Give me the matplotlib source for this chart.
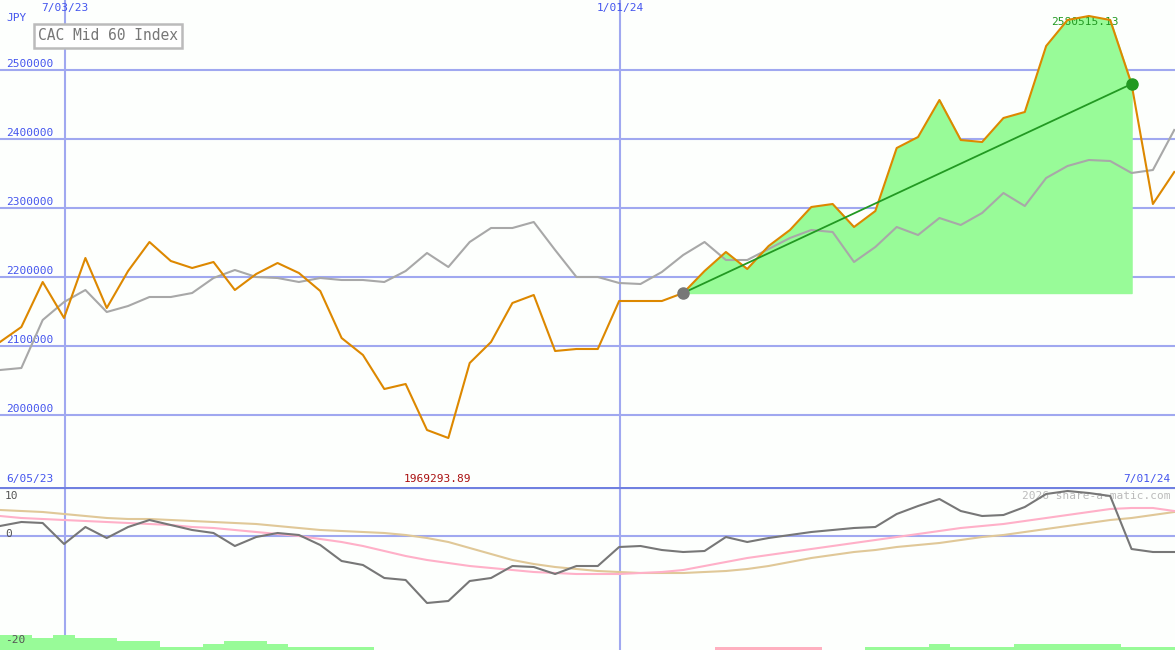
import matplotlib
matplotlib.use("Agg")
import matplotlib.pyplot as plt
import numpy as np

dates_top = ["7/03/23", "1/01/24"]
date_top_idx = [3.04, 29.04]
price_px = [342,327,282,318,258,308,271,242,261,268,262,290,274,263,273,291,338,355,389,384,
            430,438,363,342,303,295,351,349,349,301,301,301,293,271,252,269,246,230,207,204,
            227,211,148,137,100,140,142,118,112,46,20,16,20,84,204,172]
compare_px = [370,368,320,302,290,312,306,297,297,293,278,270,277,278,282,278,280,280,282,271,
              253,267,242,228,228,222,250,277,277,283,284,272,255,242,260,260,249,238,230,232,
              262,247,227,235,218,225,213,193,206,178,166,160,161,173,170,130]
osc_px = [526,522,523,544,527,538,527,520,525,530,533,546,537,533,535,545,561,565,578,580,
          603,601,581,578,566,567,574,566,566,547,546,550,552,551,537,542,538,535,532,530,
          528,527,514,506,499,511,516,515,507,494,491,493,496,549,552,552]
pink_px = [516,518,519,520,521,522,523,524,525,527,528,530,532,534,536,539,542,546,551,556,
           560,563,566,568,570,572,573,574,574,574,573,572,570,566,562,558,555,552,549,546,
           543,540,537,534,531,528,526,524,521,518,515,512,509,508,508,511]
tan_px = [510,511,512,514,516,518,519,519,520,521,522,523,524,526,528,530,531,532,533,535,
          538,542,548,554,560,564,567,569,571,572,573,573,573,572,571,569,566,562,558,555,
          552,550,547,545,543,540,537,535,532,529,526,523,520,518,515,512]
bars_px = [15,15,12,15,12,12,9,9,3,3,6,9,9,6,3,3,3,3,0,0,0,0,0,0,0,0,0,0,0,0,0,0,0,0,
           -3,-3,-3,-3,-3,0,0,3,3,3,6,3,3,3,6,6,6,6,6,3,3,3]

price = 2500000 - (np.array(price_px) - 70) / 69 * 100000
compare = 2500000 - (np.array(compare_px) - 70) / 69 * 100000
osc = (536 - np.array(osc_px)) / 4
pink = (536 - np.array(pink_px)) / 4
tan = (536 - np.array(tan_px)) / 4
bars = np.array(bars_px) / 4

PX = 21.35
W = 1175 / PX
x = np.arange(len(price))
BLUE = "#a0a8f0"
TXT = "#4455ee"
mono = "DejaVu Sans Mono"
FS = 8

fig = plt.figure(figsize=(11.75, 6.5), dpi=100, facecolor="#fdfffd")
ax = fig.add_axes([0, 163/650, 1, 487/650], facecolor="#fdfffd")
ax2 = fig.add_axes([0, 0, 1, 163/650], facecolor="#fdfffd")
for a in (ax, ax2):
    a.set_xlim(0, W)
    a.set_xticks([]); a.set_yticks([])
    for s in a.spines.values():
        s.set_visible(False)
    for d in date_top_idx:
        a.axvline(d, color=BLUE, lw=1.5, zorder=1)

def py(p):
    return 2500000 - (p - 70) / 69 * 1e5

ytop, ybot = py(0), py(487)
ax.set_ylim(ybot, ytop)
for v in range(2000000, 2600000, 100000):
    ax.axhline(v, color=BLUE, lw=1.5, zorder=1)
    ax.text(6/PX, v + 9000, str(v), color=TXT, fontsize=FS, family=mono, va="center")
ax.text(6/PX, py(18), "JPY", color=TXT, fontsize=FS, family=mono, va="center")
for lab, d in zip(dates_top, date_top_idx):
    ax.text(d, py(8), lab, color=TXT, fontsize=FS, family=mono, ha="center", va="center")
ax.text(6/PX, py(479), "6/05/23", color=TXT, fontsize=FS, family=mono, va="center")
ax.text(437/PX, py(479), "1969293.89", color="#aa1111", fontsize=FS, family=mono, va="center", ha="center")
ax.text(1170/PX, py(479), "7/01/24", color=TXT, fontsize=FS, family=mono, va="center", ha="right")

ax.text(38/PX, py(36), "CAC Mid 60 Index", color="#777777", fontsize=10.5, family=mono,
        va="center", bbox=dict(boxstyle="square,pad=0.3", fc="white", ec="#bbbbbb", lw=1.8), zorder=6)

i0, i1 = 32, 53
ax.fill_between(x[i0:i1+1], price[i0], price[i0:i1+1], color="#98fb98", zorder=2)
ax.plot(x, compare, color="#a8a8a8", lw=1.5, zorder=3)
ax.plot(x, price, color="#dd8800", lw=1.5, zorder=4)
ax.plot([x[i0], x[i1]], [price[i0], price[i1]], color="#229922", lw=1.3, zorder=5)
ax.plot(x[i0], price[i0], "o", color="#777777", ms=8, zorder=6)
ax.plot(x[i1], price[i1], "o", color="#229922", ms=8, zorder=6)
ax.text(1085/PX, py(22), "2580515.13", color="#229922", fontsize=FS, family=mono,
        ha="center", va="center", zorder=3)

# lower panel
ax2.set_ylim(-28.5, 12.25)
ax2.axhline(12.25, color="#7080e0", lw=3)
ax2.axhline(0, color=BLUE, lw=1.5, zorder=1)
ax2.text(1170/PX, (536-496)/4, "2026 share-a-matic.com", color="#bbbbbb", fontsize=FS, family=mono, va="center", ha="right")
for v, lab in [(10, "10"), (0.4, "0"), (-26, "-20")]:
    ax2.text(5/PX, v, lab, color="#555555", fontsize=FS, family=mono, va="center")
bar_colors = ["#98fb98" if b >= 0 else "#ffb0c0" for b in bars]
ax2.bar(x, np.abs(bars), bottom=-28.5, width=1.0, color=bar_colors, zorder=1)
ax2.plot(x, tan, color="#e0c898", lw=1.5, zorder=2)
ax2.plot(x, pink, color="#ffb0c8", lw=1.5, zorder=2)
ax2.plot(x, osc, color="#777777", lw=1.5, zorder=3)

fig.savefig("out.png", dpi=100, facecolor=fig.get_facecolor())
